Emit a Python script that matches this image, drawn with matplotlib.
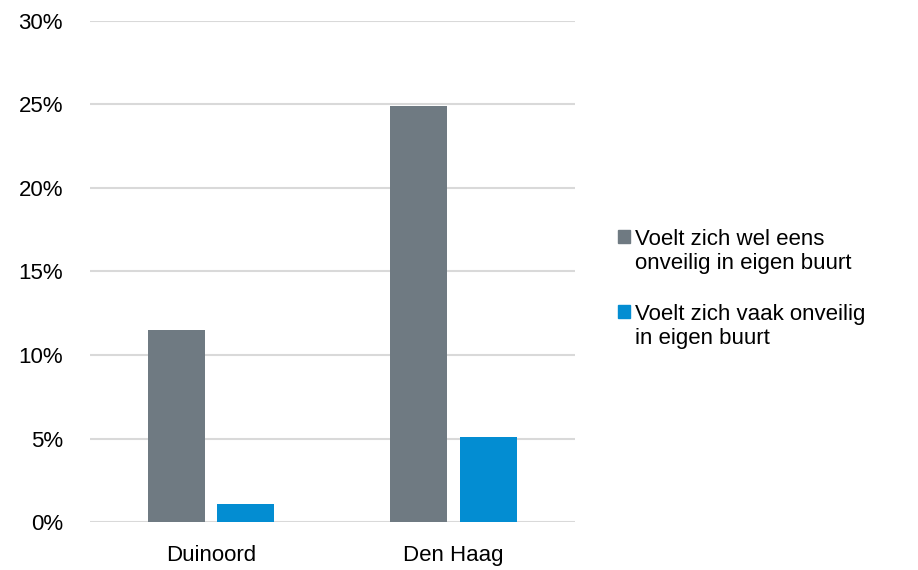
import matplotlib.pyplot as plt
import numpy as np
from matplotlib.patches import Rectangle

plt.rcParams['font.family'] = ['Liberation Sans', 'DejaVu Sans']

categories = ['Duinoord', 'Den Haag']
wel_eens = [11.5, 24.9]
vaak = [1.1, 5.1]
series_labels = ['Voelt zich wel eens\nonveilig in eigen buurt',
                 'Voelt zich vaak onveilig\nin eigen buurt']
yticks = [0, 5, 10, 15, 20, 25, 30]

GREY = '#6f7a82'
BLUE = '#038dd2'
W, H = 918, 570

fig = plt.figure(figsize=(W / 100, H / 100), dpi=100)
ax = fig.add_axes([0.098, 0.0837, 0.528, 0.88])

x = np.arange(len(categories))
w = 0.235
ax.bar(x - 0.1425, wel_eens, w, color=GREY, zorder=3)
ax.bar(x + 0.1425, vaak, w, color=BLUE, zorder=3)

ax.set_xlim(-0.5, 1.5)
ax.set_ylim(0, 30)
ax.set_yticks(yticks)
ax.set_yticklabels([f'{t}%' for t in yticks])
ax.set_xticks(x)
ax.set_xticklabels(categories)
ax.yaxis.grid(True, color='#d9d9d9', linewidth=1.5, zorder=0)
ax.tick_params(length=0, labelsize=16, colors='#000000')
ax.tick_params(axis='y', pad=19.5)
ax.tick_params(axis='x', pad=16)
for s in ax.spines.values():
    s.set_visible(False)

# legend drawn by hand so the square sits on the first text line
for i, (lab, col) in enumerate(zip(series_labels, [GREY, BLUE])):
    top = 230 + i * 75
    fig.patches.append(Rectangle((618 / W, 1 - (top + 13) / H), 12 / W, 13 / H,
                                 color=col, transform=fig.transFigure))
    fig.text(635 / W, 1 - (top - 1) / H, lab, fontsize=16, va='top', ha='left',
             linespacing=1.2)

fig.savefig('out.png', dpi=100)
